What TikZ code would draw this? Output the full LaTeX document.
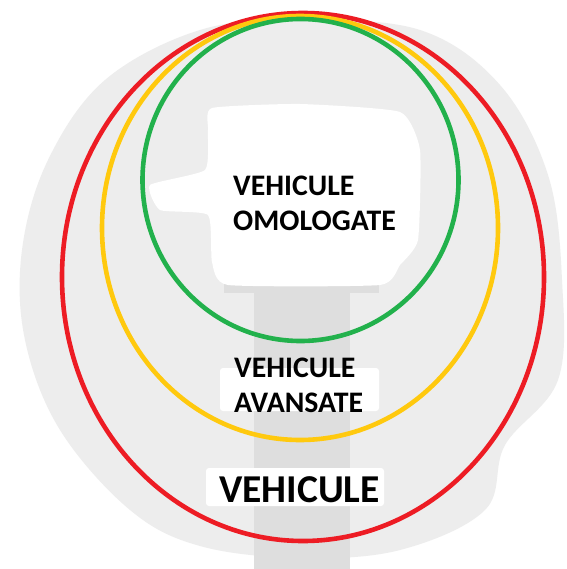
\documentclass[tikz,border=0pt]{standalone}
\usepackage{fontspec}
\setmainfont{Carlito}
\definecolor{bggray}{HTML}{EDEDED}
\definecolor{stripegray}{HTML}{DEDEDE}
\definecolor{pRed}{HTML}{ED1C24}
\definecolor{pYellow}{HTML}{FFC90E}
\definecolor{pGreen}{HTML}{22B14C}
\tikzset{
  ring/.style={line width=4.6pt},
  lbl/.style={anchor=base west, inner sep=0pt, font=\fontsize{29.8}{31}\selectfont\bfseries},
  biglbl/.style={anchor=base west, inner sep=0pt, font=\fontsize{39.5}{41}\selectfont\bfseries},
}
\begin{document}
\begin{tikzpicture}[x=1pt,y=-1pt]
\useasboundingbox (0,0) rectangle (566,569);
\fill[white] (0,0) rectangle (566,569);
% blurred gray background blob
\fill[bggray] plot[smooth cycle, tension=0.6] coordinates {
 (300,20) (420,30) (500,85) (548,175) (562,280) (558,380) (505,445)
 (485,510) (400,550) (300,558) (200,546) (130,510) (60,430) (25,340)
 (22,250) (48,160) (105,80) (200,30)};
% darker vertical stripe
\fill[stripegray] (224,278) rectangle (379,293);
\fill[stripegray] (254,285) rectangle (350,569);
% white patches
\fill[white] plot[smooth cycle, tension=0.3] coordinates {
 (212,108) (300,104) (400,112) (420,150) (418,240) (400,265) (380,285)
 (228,285) (212,262) (208,215) (160,210) (150,185) (205,170) (208,130)};
\fill[white, rounded corners=3pt] (220,368) rectangle (379,411);
\fill[white, rounded corners=3pt] (206,468) rectangle (384,506);
% rings
\draw[ring, pRed] (303,277) ellipse [x radius=241, y radius=264];
\draw[ring, pYellow] (300,228) ellipse [x radius=198, y radius=212];
\draw[ring, pGreen] (300.5,180) ellipse [x radius=158, y radius=161];
% labels
\node[lbl] (t1) at (233,196) {VEHICULE};
\node[lbl] (t2) at (233,230) {OMOLOGATE};
\node[lbl] (t3) at (234,377) {VEHICULE};
\node[lbl] (t4) at (234,412) {AVANSATE};
\node[biglbl] (t5) at (219,502) {VEHICULE};
\end{tikzpicture}
\end{document}
